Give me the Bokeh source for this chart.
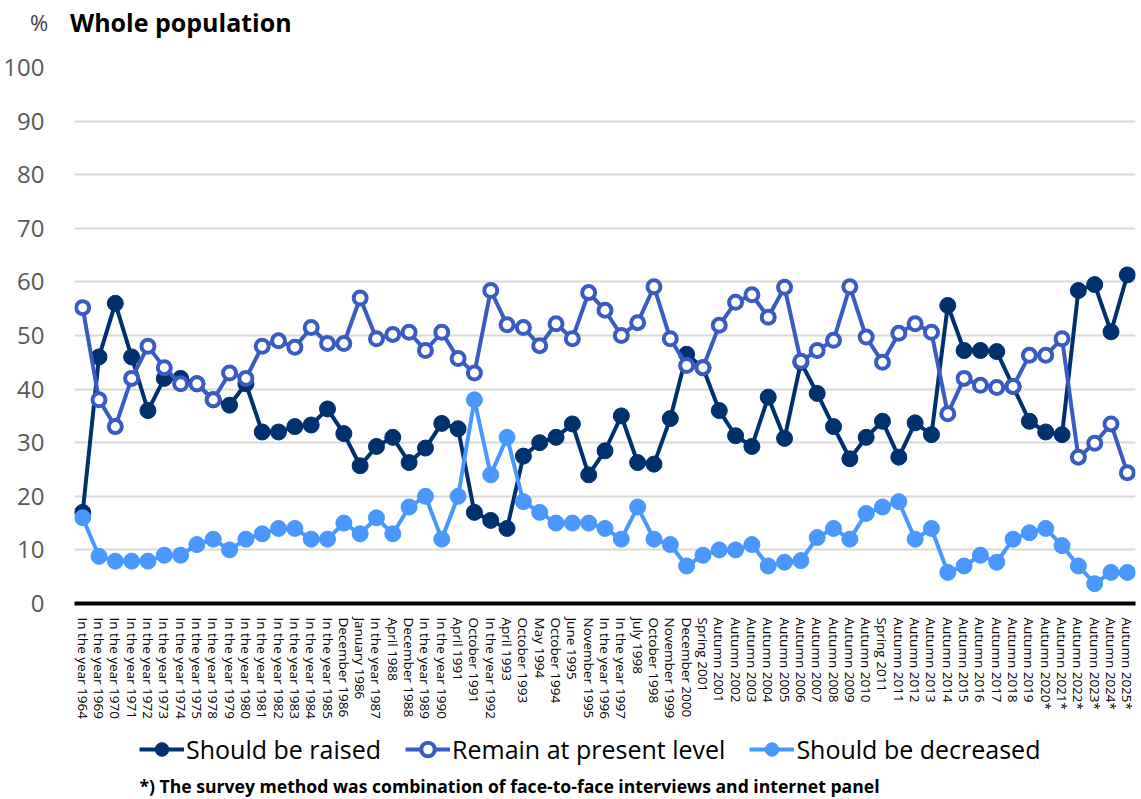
import math
from bokeh.plotting import figure
from bokeh.layouts import column
from bokeh.models import (FactorRange, Range1d, Legend, LegendItem, Label, Div,
                          FixedTicker, ColumnDataSource)
from bokeh.embed import file_html
from bokeh.resources import INLINE

categories = [
    "In the year 1964", "In the year 1969", "In the year 1970", "In the year 1971",
    "In the year 1972", "In the year 1973", "In the year 1974", "In the year 1975",
    "In the year 1978", "In the year 1979", "In the year 1980", "In the year 1981",
    "In the year 1982", "In the year 1983", "In the year 1984", "In the year 1985",
    "December 1986", "January 1986", "In the year 1987", "April 1988",
    "December 1988", "In the year 1989", "In the year 1990", "April 1991",
    "October 1991", "In the year 1992", "April 1993", "October 1993",
    "May 1994", "October 1994", "June 1995", "November 1995",
    "In the year 1996", "In the year 1997", "July 1998", "October 1998",
    "November 1999", "December 2000", "Spring 2001", "Autumn 2001",
    "Autumn 2002", "Autumn 2003", "Autumn 2004", "Autumn 2005",
    "Autumn 2006", "Autumn 2007", "Autumn 2008", "Autumn 2009",
    "Autumn 2010", "Spring 2011", "Autumn 2011", "Autumn 2012",
    "Autumn 2013", "Autumn 2014", "Autumn 2015", "Autumn 2016",
    "Autumn 2017", "Autumn 2018", "Autumn 2019", "Autumn 2020*",
    "Autumn 2021*", "Autumn 2022*", "Autumn 2023*", "Autumn 2024*",
    "Autumn 2025*",
]

should_be_raised = [
    17, 46, 56, 46, 36, 42, 42, 41, 38, 37,
    41, 32, 32, 33, 33.3, 36.3, 31.7, 25.7, 29.3, 31,
    26.3, 29, 33.6, 32.6, 17, 15.5, 14, 27.5, 30, 31,
    33.5, 24, 28.5, 35, 26.3, 26, 34.5, 46.5, 44, 36,
    31.3, 29.3, 38.5, 30.8, 45, 39.2, 33, 27, 31, 34,
    27.3, 33.7, 31.5, 55.6, 47.2, 47.2, 47, 40.5, 34, 32,
    31.5, 58.4, 59.5, 50.7, 61.3,
]

remain_at_present_level = [
    55.2, 38, 33, 42, 48, 44, 41, 41, 38, 43,
    42, 48, 49, 47.8, 51.5, 48.5, 48.5, 57, 49.4, 50.2,
    50.6, 47.2, 50.6, 45.7, 43, 58.4, 52, 51.5, 48.1, 52.2,
    49.4, 58, 54.7, 50, 52.4, 59.1, 49.4, 44.4, 44, 51.9,
    56.2, 57.6, 53.4, 59, 45.2, 47.2, 49.1, 59.1, 49.7, 45,
    50.4, 52.2, 50.6, 35.4, 42, 40.7, 40.3, 40.5, 46.3, 46.3,
    49.4, 27.3, 29.9, 33.5, 24.4,
]

should_be_decreased = [
    16, 8.8, 7.9, 7.9, 7.9, 9, 9, 11, 12, 10,
    12, 13, 14, 14, 12, 12, 15, 13, 16, 13,
    18, 20, 12, 20, 38, 24, 31, 19, 17, 15,
    15, 15, 14, 12, 18, 12, 11, 7, 9, 10,
    10, 11, 7, 7.7, 8, 12.3, 14, 12, 16.8, 18,
    19, 12, 14, 5.8, 7, 9, 7.7, 12, 13.2, 14,
    10.8, 7, 3.7, 5.8, 5.8,
]

series_names = ["Should be raised", "Remain at present level", "Should be decreased"]
y_ticks = list(range(0, 101, 10))

DARK = "#00306e"
MID = "#3a5bc4"
LIGHT = "#4898ff"
FONT = "Open Sans"
W = 1136
FRAME_L, FRAME_R = 72, 1135

# ---------- header (HTML text) ----------
HEAD_H = 47
header = Div(width=W, height=HEAD_H, margin=(0, 0, 0, 0), text=(
    f'<div style="position:relative;width:{W}px;height:{HEAD_H}px;font-family:\'{FONT}\';">'
    '<span style="position:absolute;left:30px;top:7px;font-size:22px;line-height:30px;'
    'color:#404040;">%</span>'
    '<span style="position:absolute;left:70px;top:7px;font-size:25px;line-height:30px;'
    'font-weight:bold;color:#000;white-space:nowrap;">Whole population</span>'
    '</div>'))

# ---------- main chart ----------
src = ColumnDataSource(dict(cat=categories, raised=should_be_raised,
                            remain=remain_at_present_level,
                            decreased=should_be_decreased))

MAIN_BOTTOM = 126
p = figure(x_range=FactorRange(*categories), y_range=Range1d(0, 100),
           width=W, height=20 + 536 + MAIN_BOTTOM, output_backend="svg", toolbar_location=None,
           min_border_left=FRAME_L, min_border_right=W - FRAME_R, min_border_top=20,
           min_border_bottom=MAIN_BOTTOM)
p.outline_line_color = None

p.xaxis.axis_line_width = 4
p.xaxis.axis_line_color = "black"
p.xaxis.major_tick_line_color = None
p.xaxis.minor_tick_line_color = None
p.xaxis.major_label_orientation = -math.pi / 2
p.xaxis.major_label_text_font = FONT
p.xaxis.major_label_text_font_size = "13.5px"
p.xaxis.major_label_text_color = "black"
p.xaxis.major_label_standoff = 8

p.yaxis.ticker = FixedTicker(ticks=y_ticks)
p.yaxis.axis_line_color = None
p.yaxis.major_tick_line_color = None
p.yaxis.minor_tick_line_color = None
p.yaxis.major_label_text_font = FONT
p.yaxis.major_label_text_font_size = "24px"
p.yaxis.major_label_text_color = "#595959"
p.yaxis.major_label_standoff = 24

p.xgrid.grid_line_color = None
p.ygrid.grid_line_color = "#d9d9d9"
p.ygrid.grid_line_width = 2
p.ygrid.ticker = FixedTicker(ticks=y_ticks)

p.line("cat", "raised", source=src, line_width=4, line_color=DARK)
p.scatter("cat", "raised", source=src, size=16, fill_color=DARK, line_color=DARK)
p.line("cat", "remain", source=src, line_width=4, line_color=MID)
p.scatter("cat", "remain", source=src, size=13, fill_color="white",
          line_color=MID, line_width=4)
p.line("cat", "decreased", source=src, line_width=4, line_color=LIGHT)
p.scatter("cat", "decreased", source=src, size=16, fill_color=LIGHT, line_color=LIGHT)

# ---------- footer: legend + note (frame is aligned to the main frame) ----------
FOOT_H = 798 - HEAD_H - (20 + 536 + MAIN_BOTTOM)
ff = figure(width=W, height=FOOT_H, x_range=Range1d(FRAME_L, FRAME_R),
            y_range=Range1d(0, FOOT_H), output_backend="svg", toolbar_location=None,
            x_axis_type=None, y_axis_type=None,
            min_border_left=FRAME_L, min_border_right=W - FRAME_R,
            min_border_top=0, min_border_bottom=0)
ff.outline_line_color = None
ff.xgrid.grid_line_color = None
ff.ygrid.grid_line_color = None

# legend sample glyphs (kept off-screen, only their styles are shown in the legend)
off = dict(x=[-1e6], y=[-1e6])
fl1 = ff.line(**off, line_width=4, line_color=DARK)
fs1 = ff.scatter(**off, size=16, fill_color=DARK, line_color=DARK)
fl2 = ff.line(**off, line_width=4, line_color=MID)
fs2 = ff.scatter(**off, size=13, fill_color="white", line_color=MID, line_width=4)
fl3 = ff.line(**off, line_width=4, line_color=LIGHT)
fs3 = ff.scatter(**off, size=16, fill_color=LIGHT, line_color=LIGHT)

LEG_H = 34
foot_top = 798 - FOOT_H          # page y of the footer's top edge
legend_center = 749              # page y
note_center = 785                # page y
legend = Legend(items=[
    LegendItem(label=series_names[0], renderers=[fl1, fs1]),
    LegendItem(label=series_names[1], renderers=[fl2, fs2]),
    LegendItem(label=series_names[2], renderers=[fl3, fs3]),
], orientation="horizontal",
   location=(137 - FRAME_L, FOOT_H - (legend_center - foot_top) - LEG_H // 2))
legend.label_text_font = FONT
legend.label_text_font_size = "25px"
legend.label_text_color = "black"
legend.glyph_width = 45
legend.glyph_height = LEG_H
legend.label_height = LEG_H
legend.label_standoff = 2
legend.spacing = 24
legend.padding = 0
legend.margin = 0
legend.border_line_color = None
legend.background_fill_alpha = 0
ff.add_layout(legend)

ff.add_layout(Label(x=137, y=FOOT_H - (note_center - foot_top),
                    text="*) The survey method was combination of face-to-face interviews and internet panel",
                    text_font=FONT, text_font_size="17.6px", text_font_style="bold",
                    text_color="black", text_baseline="middle", text_align="left"))

layout = column(header, p, ff, spacing=0)
open("out.html", "w").write(file_html(layout, INLINE))
